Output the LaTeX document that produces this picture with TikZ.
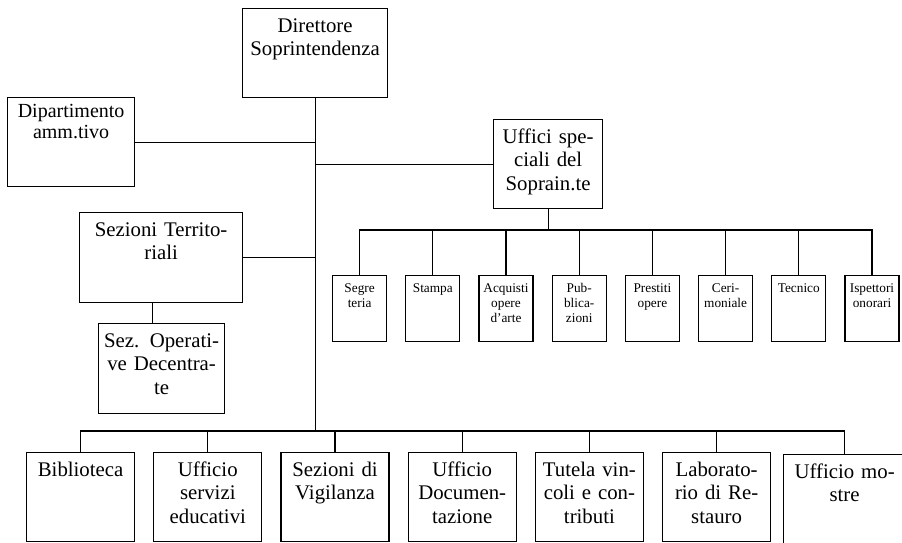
\documentclass[tikz,border=0pt]{standalone}
\usepackage{fontspec}
\setmainfont{Liberation Serif}
\usepackage{tikz}
\usetikzlibrary{positioning}

\begin{document}
\begin{tikzpicture}[x=1pt, y=-1pt,
  box/.style={draw, line width=1.2pt, inner sep=0pt, align=center,
    font=\fontsize{20.8}{23.3}\selectfont, text height=24pt},
  lower/.style={box, text width=108pt, text depth=65pt},
  small/.style={draw, line width=1.2pt, inner sep=0pt, align=center,
    font=\fontsize{13.3}{15}\selectfont, text width=54pt,
    text height=17pt, text depth=49pt},
  link/.style={line width=1.2pt, line cap=rect}]

\useasboundingbox (0,0) rectangle (902,542);

% Director and staff
\node[box, anchor=north west, text width=145pt, text depth=65pt] (dir) at (242,8) {Direttore\\Soprintendenza};
\node[box, anchor=north west, text width=127pt, text height=20pt, text depth=69pt,
  font=\fontsize{20}{21}\selectfont] (dip) at (7,97) {Dipartimento\\amm.tivo};
\node[box, anchor=north west, text width=109pt, text depth=65pt] (spec) at (493,119) {Uffici spe-\\ciali del\\Soprain.te};
\node[box, anchor=north west, text width=163pt, text depth=66pt] (terr) at (79,212) {Sezioni Territo-\\riali};
\node[box, anchor=north west, text width=126pt, text depth=66pt] (oper) at (98,323) {Sez. Operati-\\ve Decentra-\\te};

% Special offices
\node[small, anchor=north west] (seg) at (332,275) {Segre\\teria};
\node[small, right=18pt of seg] (sta) {Stampa};
\node[small, right=18pt of sta] (acq) {Acquisti\\opere\\d'arte};
\node[small, right=18pt of acq] (pub) {Pub-\\blica-\\zioni};
\node[small, right=18pt of pub] (pre) {Prestiti\\opere};
\node[small, right=18pt of pre] (cer) {Ceri-\\moniale};
\node[small, right=18pt of cer] (tec) {Tecnico};
\node[small, right=18pt of tec] (isp) {Ispettori\\onorari};

% Lower row
\node[lower, anchor=north west] (bib) at (26,452) {Biblioteca};
\node[lower, right=18pt of bib] (serv) {Ufficio\\servizi\\educativi};
\node[lower, right=18pt of serv] (vig) {Sezioni di\\Vigilanza};
\node[lower, right=18pt of vig] (doc) {Ufficio\\Documen-\\tazione};
\node[lower, right=18pt of doc] (tut) {Tutela vin-\\coli e con-\\tributi};
\node[lower, right=18pt of tut] (lab) {Laborato-\\rio di Re-\\stauro};
\node[box, anchor=north west, text width=122pt, text depth=80pt] (mos) at (783,454) {Ufficio mo-\\stre};

% Trunk
\coordinate (hub) at (dir.south |- 0,431);
\draw[link] (dir.south) -- (hub);
\draw[link] (dip.east) -- (dip.east -| dir.south);
\draw[link] (spec.west) -- (spec.west -| dir.south);
\draw[link] (terr.east) -- (terr.east -| dir.south);
\draw[link] ([xshift=-9pt]oper.north) -- ([xshift=-9pt]oper.north |- terr.south);

% Special bar
\coordinate (sbar) at (spec.south |- 0,230);
\draw[link] (spec.south) -- (sbar);
\draw[link] (seg.north |- sbar) -- (isp.north |- sbar);
\foreach \n in {seg,sta,acq,pub,pre,cer,tec,isp}
  \draw[link] (\n.north) -- (\n.north |- sbar);

% Lower bar
\draw[link] (bib.north |- hub) -- (mos.north |- hub);
\foreach \n in {bib,serv,vig,doc,tut,lab,mos}
  \draw[link] (\n.north) -- (\n.north |- hub);

\end{tikzpicture}
\end{document}
